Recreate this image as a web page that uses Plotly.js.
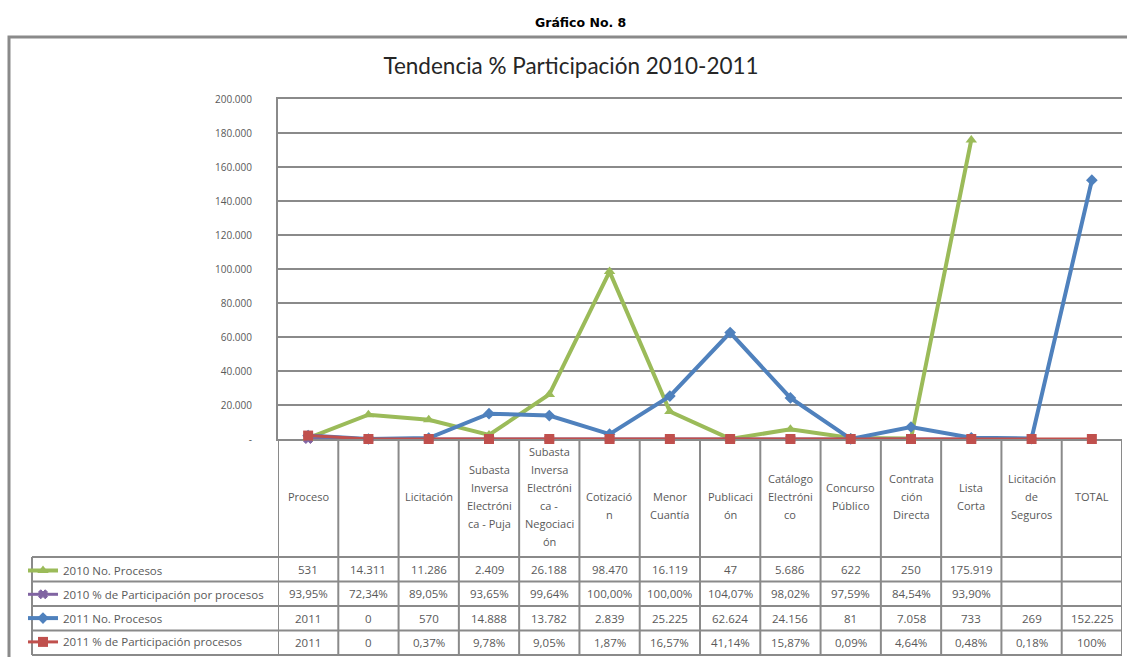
<!DOCTYPE html>
<html>
<head>
<meta charset="utf-8">
<script src="https://cdn.plot.ly/plotly-3.0.1.min.js"></script>
<style>html,body{margin:0;padding:0;background:#fff;}#chart{width:1127px;height:657px;}</style>
</head>
<body>
<div id="chart"></div>
<script>
// ---- data ----
var categories = ["Proceso", "", "Licitación", "Subasta Inversa Electrónica - Puja",
  "Subasta Inversa Electrónica - Negociación", "Cotización", "Menor Cuantía", "Publicación",
  "Catálogo Electrónico", "Concurso Público", "Contratación Directa", "Lista Corta",
  "Licitación de Seguros", "TOTAL"];
// header labels as wrapped in the picture
var categoryLines = [
  ["Proceso"], [""], ["Licitación"],
  ["Subasta", "Inversa", "Electróni", "ca - Puja"],
  ["Subasta", "Inversa", "Electróni", "ca -", "Negociaci", "ón"],
  ["", "Cotizació", "n"], ["", "Menor", "Cuantía"], ["", "Publicaci", "ón"],
  ["Catálogo", "Electróni", "co"], ["Concurso", "Público"],
  ["Contrata", "ción", "Directa"], ["Lista", "Corta"],
  ["Licitación", "de", "Seguros"], ["TOTAL"]
];
var seriesNames = ["2010 No. Procesos", "2010 % de Participación por procesos",
  "2011 No. Procesos", "2011 % de Participación procesos"];
var procesos2010 = [531, 14311, 11286, 2409, 26188, 98470, 16119, 47, 5686, 622, 250, 175919, null, null];
var particip2010 = [0.9395, 0.7234, 0.8905, 0.9365, 0.9964, 1.0, 1.0, 1.0407, 0.9802, 0.9759, 0.8454, 0.9390, null, null];
var procesos2011 = [2011, 0, 570, 14888, 13782, 2839, 25225, 62624, 24156, 81, 7058, 733, 269, 152225];
var particip2011 = [2011, 0, 0.0037, 0.0978, 0.0905, 0.0187, 0.1657, 0.4114, 0.1587, 0.0009, 0.0464, 0.0048, 0.0018, 1.0];
// table texts as printed
var procesos2010Text = ["531", "14.311", "11.286", "2.409", "26.188", "98.470", "16.119", "47", "5.686", "622", "250", "175.919", "", ""];
var particip2010Text = ["93,95%", "72,34%", "89,05%", "93,65%", "99,64%", "100,00%", "100,00%", "104,07%", "98,02%", "97,59%", "84,54%", "93,90%", "", ""];
var procesos2011Text = ["2011", "0", "570", "14.888", "13.782", "2.839", "25.225", "62.624", "24.156", "81", "7.058", "733", "269", "152.225"];
var particip2011Text = ["2011", "0", "0,37%", "9,78%", "9,05%", "1,87%", "16,57%", "41,14%", "15,87%", "0,09%", "4,64%", "0,48%", "0,18%", "100%"];
var yTickVals = [0, 20000, 40000, 60000, 80000, 100000, 120000, 140000, 160000, 180000, 200000];
var yTickText = ["-", "20.000", "40.000", "60.000", "80.000", "100.000", "120.000", "140.000", "160.000", "180.000", "200.000"];

// ---- styles ----
var colors = ["#9BBB59", "#8064A2", "#4F81BD", "#C0504D"];
var symbols = ["triangle-up", "x", "diamond", "square"];
var widths = [4, 3, 4, 3];
var msizes = [10, 8, 9, 10];
var seriesValues = [procesos2010, particip2010, procesos2011, particip2011];
var seriesTexts = [procesos2010Text, particip2010Text, procesos2011Text, particip2011Text];

var W = 1127, H = 657;
function py(p) { return (H - p) / H; }   // pixel row -> paper y
function px(p) { return p / W; }
var FONT = "'Open Sans', Lato, sans-serif";
var TXT = "#595959";
var GRID = "#8a8a8a";
var FS = 11.5, FSH = 11, FST = 10;

var xIdx = categories.map(function (c, i) { return i; });
var traces = seriesValues.map(function (vals, k) {
  return {
    type: "scatter", mode: "lines+markers", name: seriesNames[k],
    x: xIdx, y: vals, legendgroup: "g" + k, cliponaxis: false,
    line: { color: colors[k], width: widths[k] },
    marker: { color: colors[k], symbol: symbols[k], size: msizes[k],
      line: { color: colors[k], width: symbols[k] === "x" ? 1 : 0 } },
    connectgaps: false, hoverinfo: "x+y"
  };
});

// ---- table geometry (pixel rows) ----
var headerTop = 439, headerBottom = 557, rowH = 24.5, headerCenter = 496, lineGap = 18, textShift = 0;
var legendLeft = 32;
var shapes = [], annotations = [];
var n = categories.length;
// vertical column borders
for (var i = 0; i <= n; i++) {
  shapes.push({ type: "line", xref: "x", yref: "paper", x0: i - 0.5, x1: i - 0.5,
    y0: py(headerTop), y1: py(headerBottom + 4 * rowH), line: { color: GRID, width: 2 }, layer: "below" });
}
// horizontal row borders
for (var r = 0; r <= 4; r++) {
  shapes.push({ type: "line", xref: "paper", yref: "paper", x0: px(legendLeft), x1: px(1122),
    y0: py(headerBottom + r * rowH), y1: py(headerBottom + r * rowH), line: { color: GRID, width: 2 } });
}
shapes.push({ type: "line", xref: "paper", yref: "paper", x0: px(legendLeft), x1: px(legendLeft),
  y0: py(headerBottom), y1: py(headerBottom + 4 * rowH), line: { color: GRID, width: 2 } });
// outer chart border
shapes.push({ type: "rect", xref: "paper", yref: "paper", x0: px(9), x1: 1.02, y0: -0.02, y1: py(37),
  line: { color: "#8a8a8a", width: 3 }, layer: "below" });

// header labels
categoryLines.forEach(function (lines, i) {
  lines.forEach(function (t, j) {
    if (!t) return;
    annotations.push({ xref: "x", yref: "paper", x: i, y: py(headerCenter + (j - (lines.length - 1) / 2) * lineGap),
      text: t, showarrow: false, xanchor: "center", yanchor: "middle",
      font: { family: FONT, size: FSH, color: TXT } });
  });
});
// data cells
seriesTexts.forEach(function (row, r) {
  row.forEach(function (t, i) {
    if (!t) return;
    annotations.push({ xref: "x", yref: "paper", x: i, y: py(headerBottom + (r + 0.5) * rowH + textShift),
      text: t, showarrow: false, xanchor: "center", yanchor: "middle",
      font: { family: FONT, size: FS, color: TXT } });
  });
});
// top caption
annotations.push({ xref: "paper", yref: "paper", x: px(580), y: py(22), text: "<b>Gráfico No. 8</b>",
  showarrow: false, xanchor: "center", yanchor: "middle",
  font: { family: "'DejaVu Sans', sans-serif", size: 12.5, color: "#000" } });

var layout = {
  width: W, height: H,
  margin: { l: 0, r: 0, t: 0, b: 0 },
  paper_bgcolor: "#fff", plot_bgcolor: "#fff",
  separators: ",.",
  title: { text: "Tendencia % Participación 2010-2011", x: px(571), xanchor: "center",
    y: py(66), yanchor: "middle", font: { family: "Lato, sans-serif", size: 22.5, color: "#262626" } },
  xaxis: { domain: [px(278), px(1122)], range: [-0.5, n - 0.5], showticklabels: false,
    showgrid: false, zeroline: false, showline: true, mirror: true, linecolor: GRID, linewidth: 2,
    layer: "below traces", fixedrange: true },
  yaxis: { domain: [py(headerTop), py(99)], range: [0, 200000], tickvals: yTickVals, ticktext: yTickText,
    showgrid: true, gridcolor: GRID, gridwidth: 2, zeroline: false, showline: true, linecolor: GRID, linewidth: 2,
    layer: "below traces",
    ticks: "", ticklabelstandoff: 22, tickfont: { family: FONT, size: FST, color: TXT }, fixedrange: true },
  showlegend: true,
  legend: { x: px(legendLeft - 9), y: py(headerBottom - 1), xanchor: "left", yanchor: "top",
    bgcolor: "rgba(0,0,0,0)", tracegroupgap: 4.8, itemwidth: 30,
    font: { family: FONT, size: FS, color: TXT } },
  shapes: shapes, annotations: annotations
};

Plotly.newPlot("chart", traces, layout, { staticPlot: true, displayModeBar: false });
</script>
</body>
</html>
